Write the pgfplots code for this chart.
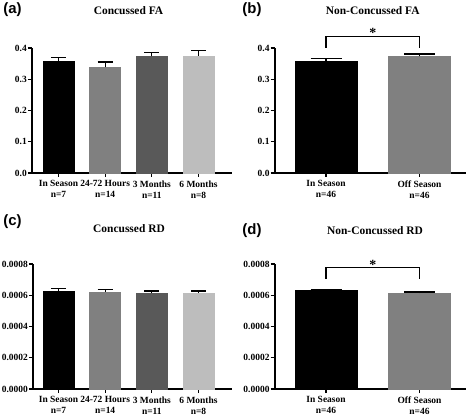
\documentclass[border=0pt]{standalone}
\usepackage{fontspec}
\setmainfont{Liberation Serif}
\newfontfamily\arialfont{Liberation Sans}
\usepackage{pgfplots}
\pgfplotsset{compat=1.18}
\definecolor{gA}{HTML}{808080}
\definecolor{gB}{HTML}{595959}
\definecolor{gC}{HTML}{BDBDBD}
\pgfplotsset{
  panel/.style={
    scale only axis, anchor=south west,
    axis x line=bottom, axis y line=left,
    axis line style={line width=1.6bp,-},
    tick style={line width=1.2bp,black},
    major tick length=4bp,
    tick align=outside,
    ymin=0,
    ybar, bar shift=0pt,
    clip=false,
    xtick={0,1,2,3},
    tick label style={font=\fontsize{9.5}{11}\selectfont\bfseries},
    /pgf/number format/assume math mode=true,
    xticklabel style={align=center},
    yticklabel style={inner xsep=1bp},
    scaled y ticks=false,
  },
  eb/.style n args={2}{fill=#1, draw=#1,
    error bars/.cd, y dir=plus, y explicit,
    error bar style={line width=1.3bp,black},
    error mark options={rotate=90,mark size=#2,line width=1.3bp,black}},
}
\begin{document}
\begin{tikzpicture}
\useasboundingbox (0,0) rectangle (468bp,417bp);
% (a)
\begin{axis}[panel, at={(32bp,244bp)}, width=200bp, height=125bp,
  xmin=-0.567, xmax=3.717, ymax=0.4, ytick={0,0.1,0.2,0.3,0.4},
  yticklabel style={/pgf/number format/.cd,fixed,fixed zerofill,precision=1},
  bar width=31bp,
  xticklabels={{In Season\\n=7},{24-72 Hours\\n=14},{3 Months\\n=11},{6 Months\\n=8}}]
\addplot[eb={black}{7.5bp}] coordinates {(0,0.358) +- (0,0.012)};
\addplot[eb={gA}{7.5bp}] coordinates {(1,0.338) +- (0,0.017)};
\addplot[eb={gB}{7.5bp}] coordinates {(2,0.373) +- (0,0.013)};
\addplot[eb={gC}{7.5bp}] coordinates {(3,0.375) +- (0,0.016)};
\end{axis}
% (b)
\begin{axis}[panel, at={(274.7bp,244bp)}, width=191.3bp, height=125bp,
  xmin=-0.549, xmax=1.497, ymax=0.4, ytick={0,0.1,0.2,0.3,0.4}, xtick={0,1},
  yticklabel style={/pgf/number format/.cd,fixed,fixed zerofill,precision=1},
  bar width=62bp,
  xticklabels={{In Season\\n=46},{Off Season\\n=46}}]
\addplot[eb={black}{15.5bp}] coordinates {(0,0.359) +- (0,0.007)};
\addplot[eb={gA}{15.5bp}] coordinates {(1,0.373) +- (0,0.008)};
\addplot[sharp plot, black, line width=1.2bp, bar shift=0pt] coordinates {(0,0.401) (0,0.438) (1,0.438) (1,0.401)};
\node[font=\fontsize{14}{14}\selectfont\bfseries, anchor=base, yshift=-1.5bp] at (axis cs:0.5,0.438) {*};
\end{axis}
% (c)
\begin{axis}[panel, at={(33bp,28bp)}, width=199bp, height=125bp,
  xmin=-0.546, xmax=3.717, ymax=0.0008, ytick={0,0.0002,0.0004,0.0006,0.0008},
  yticklabel style={/pgf/number format/.cd,fixed,fixed zerofill,precision=4},
  bar width=31bp,
  xticklabels={{In Season\\n=7},{24-72 Hours\\n=14},{3 Months\\n=11},{6 Months\\n=8}}]
\addplot[eb={black}{7.5bp}] coordinates {(0,0.000627) +- (0,0.000017)};
\addplot[eb={gA}{7.5bp}] coordinates {(1,0.000621) +- (0,0.000015)};
\addplot[eb={gB}{7.5bp}] coordinates {(2,0.000613) +- (0,0.000014)};
\addplot[eb={gC}{7.5bp}] coordinates {(3,0.000615) +- (0,0.000013)};
\end{axis}
% (d)
\begin{axis}[panel, at={(274.7bp,28bp)}, width=191.3bp, height=125bp,
  xmin=-0.549, xmax=1.497, ymax=0.0008, ytick={0,0.0002,0.0004,0.0006,0.0008}, xtick={0,1},
  yticklabel style={/pgf/number format/.cd,fixed,fixed zerofill,precision=4},
  bar width=62bp,
  xticklabels={{In Season\\n=46},{Off Season\\n=46}}]
\addplot[eb={black}{15.5bp}] coordinates {(0,0.000630) +- (0,0.000005)};
\addplot[eb={gA}{15.5bp}] coordinates {(1,0.000613) +- (0,0.000007)};
\addplot[sharp plot, black, line width=1.2bp, bar shift=0pt] coordinates {(0,0.000705) (0,0.000776) (1,0.000776) (1,0.000705)};
\node[font=\fontsize{14}{14}\selectfont\bfseries, anchor=base, yshift=-1.5bp] at (axis cs:0.5,0.000776) {*};
\end{axis}
% titles
\node[font=\fontsize{11.5}{12}\selectfont\bfseries] at (128.5bp,406bp) {Concussed FA};
\node[font=\fontsize{11.5}{12}\selectfont\bfseries] at (372.7bp,406bp) {Non-Concussed FA};
\node[font=\fontsize{11.5}{12}\selectfont\bfseries] at (129bp,188bp) {Concussed RD};
\node[font=\fontsize{11.5}{12}\selectfont\bfseries] at (375bp,186bp) {Non-Concussed RD};
% panel labels
\node[font=\arialfont\bfseries\fontsize{15}{15}\selectfont] at (12.5bp,407bp) {(a)};
\node[font=\arialfont\bfseries\fontsize{15}{15}\selectfont] at (252bp,407bp) {(b)};
\node[font=\arialfont\bfseries\fontsize{15}{15}\selectfont] at (12.5bp,195.5bp) {(c)};
\node[font=\arialfont\bfseries\fontsize{15}{15}\selectfont] at (252bp,186.5bp) {(d)};
\end{tikzpicture}
\end{document}
